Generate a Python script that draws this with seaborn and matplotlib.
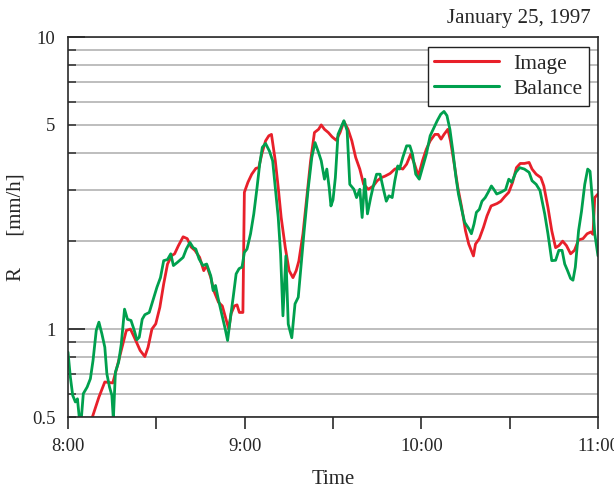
import numpy as np
import pandas as pd
import matplotlib
matplotlib.use("Agg")
import matplotlib.pyplot as plt
from matplotlib.ticker import FixedLocator, FixedFormatter
import seaborn as sns

# Rainfall rate (mm/h) on January 25, 1997, minutes after 8:00
image_t = [8.0, 10.5, 12.5, 15.2, 16.5, 18.1, 19.8, 21.2, 22.5, 24.5, 26.1, 27.2, 28.5, 29.8,
           31.2, 32.5, 33.8, 35.2, 36.2, 37.5, 39.1, 40.5, 41.8, 43.1, 44.7, 46.1, 47.1, 48.5,
           49.5, 51.1, 52.4, 53.8, 54.6, 55.4, 56.5, 57.4, 58.2, 59.4, 59.9, 61.1, 62.4, 63.8,
           64.8, 65.8, 67.1, 68.2, 69.1, 70.4, 71.4, 72.4, 73.8, 75.1, 76.4, 77.5, 78.4, 79.8,
           81.1, 82.4, 83.7, 85.1, 86.0, 87.1, 88.4, 89.7, 91.1, 92.4, 93.7, 95.1, 96.4, 97.7,
           99.1, 100.4, 102.0, 103.7, 105.0, 106.4, 107.7, 109.4, 111.0, 112.4, 113.7, 115.0,
           116.4, 117.7, 119.0, 120.4, 121.7, 123.0, 124.6, 125.7, 126.7, 127.7, 129.0, 129.9,
           131.0, 132.4, 133.7, 135.0, 136.1, 137.7, 138.4, 139.7, 141.1, 142.3, 143.7, 145.7,
           147.0, 148.3, 149.7, 151.0, 152.3, 153.6, 155.0, 156.6, 157.6, 159.0, 160.6, 161.6,
           163.0, 164.3, 165.6, 166.7, 168.0, 169.3, 170.7, 172.0, 173.4, 174.9, 176.3, 177.6,
           178.3, 178.9, 180.0]
image_r = [0.49, 0.585, 0.659, 0.654, 0.731, 0.845, 0.989, 1.0, 0.938, 0.845, 0.805, 0.867, 1.0, 1.042,
           1.188, 1.428, 1.67, 1.784, 1.81, 1.93, 2.07, 2.04, 1.91, 1.86, 1.76, 1.585, 1.65, 1.50,
           1.355, 1.236, 1.2, 1.07, 1.0, 1.13, 1.2, 1.21, 1.14, 1.14, 2.94, 3.18, 3.39, 3.55,
           3.57, 3.97, 4.41, 4.59, 4.64, 3.77, 3.05, 2.41, 1.90, 1.585, 1.50, 1.585, 1.71, 2.12,
           2.82, 3.77, 4.71, 4.83, 5.0, 4.83, 4.71, 4.55, 4.43, 4.71, 5.14, 4.83, 4.41, 3.87,
           3.53, 3.13, 3.01, 3.09, 3.22, 3.30, 3.34, 3.41, 3.53, 3.57, 3.53, 3.67,
           3.97, 3.67, 3.34, 3.77, 4.13, 4.41, 4.64, 4.64, 4.47, 4.64, 4.83, 4.41,
           3.77, 3.05, 2.61, 2.17, 1.955, 1.78, 1.955, 2.04, 2.23, 2.44, 2.64, 2.69,
           2.74, 2.84, 2.94, 3.18, 3.57, 3.69, 3.69, 3.72, 3.53, 3.39, 3.30, 3.09,
           2.61, 2.17, 1.90, 1.93, 2.0, 1.93, 1.81, 1.86, 2.02, 2.04, 2.12, 2.15,
           2.11, 2.82, 2.9]

balance_t = [0.0, 0.8, 1.6, 2.5, 3.2, 3.9, 4.5, 5.2, 6.5, 7.6, 8.5, 9.6, 10.5, 11.5, 12.5, 13.2,
             14.1, 14.9, 15.4, 16.1, 17.2, 18.1, 19.2, 20.2, 21.4, 22.5, 23.4, 24.2, 25.2, 26.1,
             27.6, 28.8, 30.2, 31.4, 32.5, 33.8, 34.9, 35.8, 37.1, 39.1, 40.2, 41.4, 42.5, 43.4,
             44.5, 45.8, 47.1, 48.5, 49.3, 50.1, 50.9, 52.2, 53.4, 54.2, 55.1, 56.1, 57.1, 58.1,
             59.1, 59.9, 60.8, 62.0, 63.1, 64.2, 65.1, 66.0, 67.1, 68.4, 69.5, 70.4, 71.4, 72.2,
             73.0, 74.0, 74.8, 76.0, 77.1, 78.2, 79.1, 80.2, 81.5, 82.8, 83.9, 85.1, 86.0, 87.1,
             87.9, 88.7, 89.3, 90.0, 90.8, 91.7, 92.7, 93.7, 94.8, 95.7, 97.1, 98.0, 99.1, 99.9,
             100.8, 101.7, 102.8, 103.7, 104.8, 106.0, 107.0, 108.1, 109.0, 110.1, 111.0, 112.0,
             112.6, 113.7, 115.0, 116.1, 117.0, 118.1, 119.3, 120.4, 121.7, 123.0, 124.3, 125.4,
             126.6, 127.7, 128.7, 129.7, 130.7, 131.7, 132.6, 133.7, 134.7, 136.1, 137.0, 137.9,
             138.7, 139.7, 140.6, 141.7, 142.7, 143.8, 144.6, 145.6, 147.0, 148.6, 149.7, 150.7,
             152.1, 153.4, 155.0, 156.6, 157.6, 159.0, 160.3, 161.9, 163.0, 164.3, 165.6, 166.7,
             167.8, 168.7, 169.6, 170.7, 171.5, 172.3, 173.4, 174.4, 175.5, 176.5, 177.3, 178.3,
             178.9, 180.0]
balance_r = [0.834, 0.685, 0.593, 0.563, 0.577, 0.49, 0.49, 0.601, 0.633, 0.676, 0.781, 0.99, 1.056,
             0.964, 0.867, 0.703, 0.633, 0.593, 0.49, 0.712, 0.771, 0.890, 1.17, 1.08, 1.07, 0.99,
             0.919, 0.938, 1.08, 1.12, 1.14, 1.25, 1.39, 1.50, 1.715, 1.73, 1.81, 1.65, 1.69, 1.76,
             1.88, 1.98, 1.90, 1.88, 1.74, 1.65, 1.67, 1.52, 1.355, 1.41, 1.285, 1.13, 1.0, 0.914,
             1.08, 1.285, 1.545, 1.61, 1.63, 1.83, 1.88, 2.12, 2.48, 3.05, 3.67, 4.19, 4.32, 4.07,
             3.77, 3.05, 2.41, 1.81, 1.11, 1.78, 1.04, 0.934, 1.22, 1.285, 1.63, 2.17, 2.98, 3.87,
             4.35, 4.02, 3.77, 3.26, 3.53, 3.05, 2.64, 2.77, 3.30, 4.64, 4.90, 5.17, 4.78, 3.13,
             3.01, 2.82, 3.01, 2.41, 3.26, 2.48, 2.82, 3.09, 3.39, 3.39, 3.05, 2.74, 2.86, 2.82,
             3.22, 3.62, 3.53, 3.87, 4.24, 4.24, 3.97, 3.39, 3.26, 3.57, 3.97, 4.59, 4.90, 5.17,
             5.44, 5.56, 5.38, 4.83, 4.07, 3.34, 2.90, 2.57, 2.32, 2.21, 2.12, 2.29, 2.51, 2.57,
             2.74, 2.82, 2.94, 3.09, 3.01, 2.90, 2.94, 3.0, 3.26, 3.18, 3.44, 3.57, 3.53, 3.44,
             3.22, 3.13, 2.98, 2.48, 2.12, 1.715, 1.72, 1.86, 1.86, 1.67, 1.59, 1.49, 1.47, 1.63,
             2.17, 2.53, 3.13, 3.53, 3.47, 2.61, 2.12, 1.78]

series_names = ["Image", "Balance"]
series_colors = ["#e8202a", "#00a04e"]
x_tick_minutes = [0, 30, 60, 90, 120, 150, 180]
x_tick_labels = ["8:00", "", "9:00", "", "10:00", "", "11:00"]
y_major = [1, 10]
y_minor = [0.5, 0.6, 0.7, 0.8, 0.9, 2, 3, 4, 5, 6, 7, 8, 9]
y_minor_labels = ["0.5", "", "", "", "", "", "", "", "5", "", "", "", ""]

df = pd.concat([
    pd.DataFrame({"minute": image_t, "R": image_r, "series": series_names[0]}),
    pd.DataFrame({"minute": balance_t, "R": balance_r, "series": series_names[1]}),
], ignore_index=True)

sns.set_style("white")
plt.rcParams["font.family"] = ["Liberation Serif", "DejaVu Serif"]

fig = plt.figure(figsize=(6.14, 4.91), dpi=100)
ax = fig.add_axes([68 / 614, 1 - 417 / 491, 530 / 614, 380 / 491])

sns.lineplot(data=df, x="minute", y="R", hue="series", hue_order=series_names,
             palette=series_colors, linewidth=2.0, sort=False, estimator=None, ax=ax)

ax.set_yscale("log")
ax.set_xlim(0, 180)
ax.set_ylim(0.5, 10)

ax.yaxis.set_major_locator(FixedLocator(y_major))
ax.yaxis.set_major_formatter(FixedFormatter(["1", "10"]))
ax.yaxis.set_minor_locator(FixedLocator(y_minor))
ax.yaxis.set_minor_formatter(FixedFormatter(y_minor_labels))
ax.yaxis.grid(True, which="both", color="#b9b9b9", linewidth=1.3)
ax.set_axisbelow(True)

ax.set_xticks(x_tick_minutes)
ax.set_xticklabels(x_tick_labels)

tick_col = "#3a3a3a"
ax.tick_params(axis="y", which="major", direction="in", length=12, width=1.4,
               color=tick_col, labelsize=13.5, pad=9, left=True, right=False)
ax.tick_params(axis="y", which="minor", direction="in", length=6, width=1.2,
               color=tick_col, labelsize=13.5, pad=9, left=True, right=False)
ax.tick_params(axis="x", which="major", direction="out", length=8.5, width=1.3,
               color=tick_col, labelsize=13.5, pad=6.5, bottom=True)

for side in ["left", "right", "top", "bottom"]:
    ax.spines[side].set_visible(True)
    ax.spines[side].set_color("#2a2a2a")
    ax.spines[side].set_linewidth(1.2)

ax.set_xlabel("Time", fontsize=15)
ax.xaxis.set_label_coords(0.5, -0.14)
ax.set_ylabel("R      [mm/h]", fontsize=15)
ax.yaxis.set_label_coords(-0.08, 0.5)

leg = ax.legend(loc="upper right", bbox_to_anchor=(589 / 614, 1 - 47 / 491),
                bbox_transform=fig.transFigure, fontsize=15.5, frameon=True,
                fancybox=False, edgecolor="#222222", framealpha=1.0,
                handlelength=3.0, handletextpad=0.65, borderpad=0.32,
                borderaxespad=0, labelspacing=0.22)
leg.get_frame().set_linewidth(1.0)
for line in leg.get_lines():
    line.set_linewidth(2.2)

fig.text(591 / 614, 1 - 18 / 491, "January 25, 1997", ha="right", va="center", fontsize=15)

fig.savefig("out.png", dpi=100)
